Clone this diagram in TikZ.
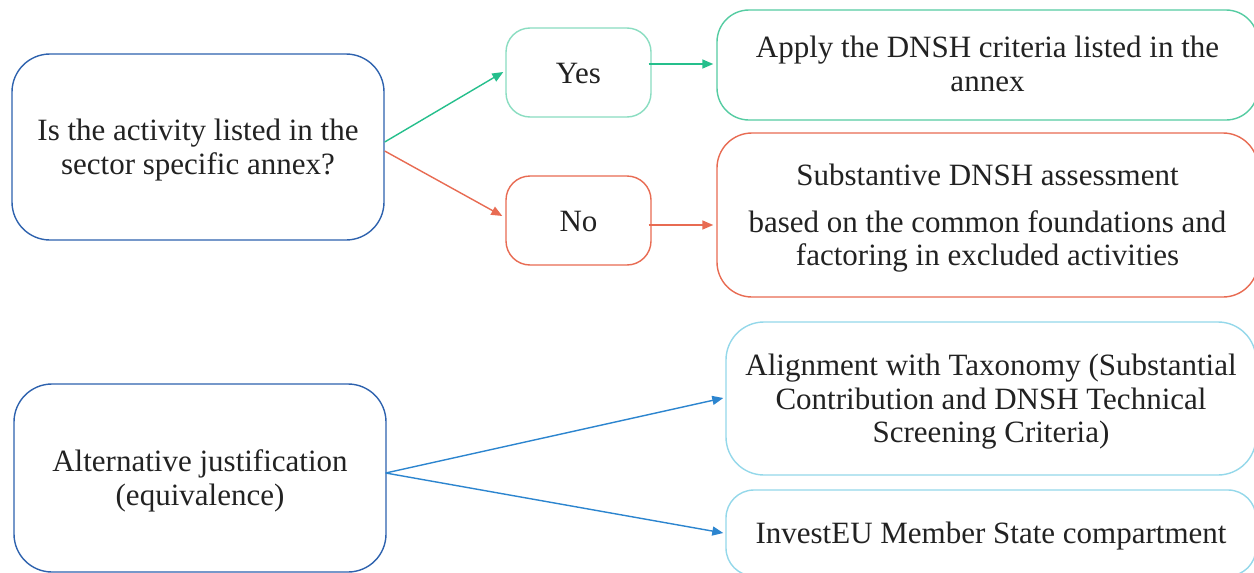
\documentclass[tikz,border=0pt]{standalone}
\usepackage{fontspec}
\setmainfont{Liberation Serif}
\usetikzlibrary{arrows.meta,calc}
\definecolor{qblue}{HTML}{2E62AE}
\definecolor{gline}{HTML}{25BF8C}
\definecolor{gbox}{HTML}{8ADDC1}
\definecolor{gbox2}{HTML}{55CCA2}
\definecolor{rline}{HTML}{E86B52}
\definecolor{cbox}{HTML}{94D8EA}
\definecolor{bline}{HTML}{2C85CF}
\definecolor{txt}{HTML}{222222}
\newcommand\boxtext[2][-4pt]{\raisebox{#1}[\height][\depth]{\begin{tabular}{@{}c@{}}#2\end{tabular}}}
\tikzset{
  box/.style={draw, line width=1.4pt, rounded corners=#1, align=center, text=txt,
    font=\fontsize{31}{33.5}\selectfont, inner sep=0pt},
  box/.default=35pt,
  arr/.style={line width=1.4pt, -{Triangle[length=11pt,width=9pt]}}
}
\begin{document}
\begin{tikzpicture}[x=1pt,y=-1pt]
\useasboundingbox (0,0) rectangle (1254,573);
\clip (0,0) rectangle (1254,573);
\fill[white] (0,0) rectangle (1254,573);
\node[box=38pt, draw=qblue, minimum width=372pt, minimum height=186pt] (q1) at (198,147)
  {\boxtext{Is the activity listed in the\\sector specific annex?}};
\node[box=24pt, draw=gbox, minimum width=145pt, minimum height=89pt] (yes) at (578.5,72.5) {\boxtext{Yes}};
\node[box=24pt, draw=rline, minimum width=145pt, minimum height=89pt] (no) at (578.5,220.5) {\boxtext{No}};
\node[box=32pt, draw=gbox2, minimum width=541pt, minimum height=110pt] (apply) at (987.5,65)
  {\boxtext[-3pt]{Apply the DNSH criteria listed in the\\annex}};
\node[box=35pt, draw=rline, minimum width=541pt, minimum height=164pt] (subst) at (987.5,215)
  {\boxtext{Substantive DNSH assessment\\[13pt]based on the common foundations and\\factoring in excluded activities}};
\node[box=38pt, draw=qblue, minimum width=372pt, minimum height=188pt] (alt) at (200,478)
  {\boxtext{Alternative justification\\(equivalence)}};
\node[box=38pt, draw=cbox, minimum width=530pt, minimum height=153pt] (align) at (991,398.5)
  {\boxtext{Alignment with Taxonomy (Substantial\\Contribution and DNSH Technical\\Screening Criteria)}};
\node[box=28pt, draw=cbox, minimum width=530pt, minimum height=86pt] (invest) at (991,533)
  {\boxtext{InvestEU Member State compartment}};
\draw[arr, gline] ([yshift=5pt]q1.east) -- ([yshift=0.5pt,xshift=-2pt]yes.west);
\draw[arr, rline] ([yshift=-4pt]q1.east) -- ([yshift=4.5pt,xshift=-3pt]no.west);
\draw[arr, gline] ([yshift=8.5pt,xshift=-3pt]yes.east) -- ([yshift=8.5pt,xshift=-3pt]yes.east -| apply.west);
\draw[arr, rline] ([yshift=-4.5pt,xshift=-3pt]no.east) -- ([yshift=-4.5pt,xshift=-3pt]no.east -| subst.west);
\draw[arr, bline] ([yshift=5pt,xshift=-1pt]alt.east) -- ([yshift=0.5pt,xshift=-2pt]align.west);
\draw[arr, bline] ([yshift=5pt,xshift=-1pt]alt.east) -- ([xshift=-2pt]invest.west);
\end{tikzpicture}
\end{document}
